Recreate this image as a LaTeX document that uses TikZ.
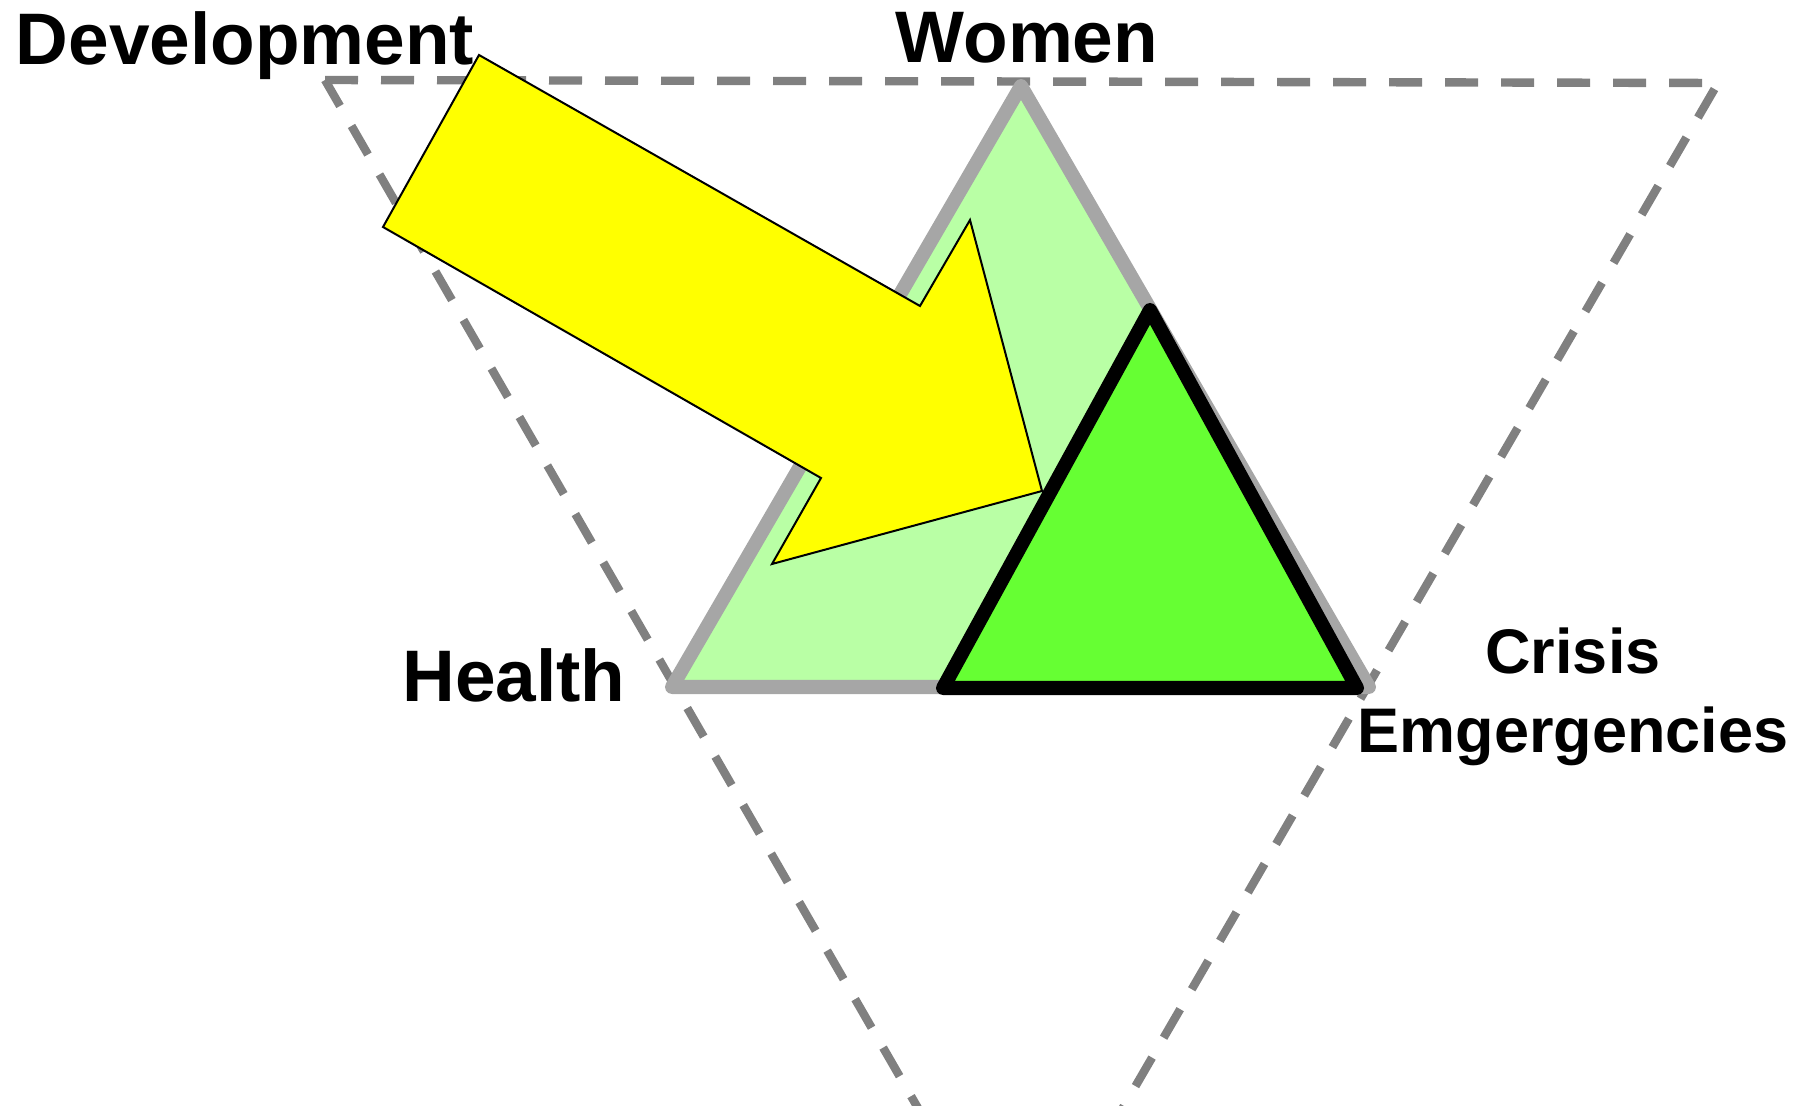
\documentclass[tikz,border=0pt]{standalone}
\usepackage{fontspec}
\setmainfont{Liberation Sans}
\definecolor{dashgray}{HTML}{808080}
\definecolor{bordergray}{HTML}{A6A6A6}
\definecolor{palegreen}{HTML}{B9FFA5}
\definecolor{brightgreen}{HTML}{66FF33}
\definecolor{arrowyellow}{RGB}{255,255,0}
\begin{document}
\begin{tikzpicture}[x=0.5pt,y=-0.5pt,
  frame/.style={draw=dashgray, line width=4.2pt, dash pattern=on 16.5pt off 11.5pt, line join=round},
  outertri/.style={draw=bordergray, fill=palegreen, line width=7pt, line join=round},
  innertri/.style={draw=black, fill=brightgreen, line width=7pt, line join=round},
  bigarrow/.style={draw=black, fill=arrowyellow, line width=1pt, line join=miter},
  biglabel/.style={font=\fontsize{36.5pt}{40pt}\selectfont\bfseries, inner sep=0pt, anchor=base},
  smalllabel/.style={font=\fontsize{31.5pt}{36pt}\selectfont\bfseries, inner sep=0pt, anchor=base}]
\useasboundingbox (0,0) rectangle (1810,1106);
\clip (0,0) rectangle (1810,1106);

% dashed frame triangle (pointing down)
\coordinate (fTL) at (325,80);
\coordinate (fTR) at (1718,83);
\coordinate (fB) at (1020,1285);
\draw[frame] (fTL) -- (fTR) -- (fB) -- cycle;

% pale green triangle
\coordinate (oA) at (1021,86);
\coordinate (oL) at (672,687);
\coordinate (oR) at (1369,687);
\draw[outertri] (oA) -- (oR) -- (oL) -- cycle;

% yellow arrow
\coordinate (a1) at (479,55);
\coordinate (a2) at (920,306);
\coordinate (a3) at (970,220);
\coordinate (a4) at (1042,491);
\coordinate (a5) at (772,564);
\coordinate (a6) at (821,478);
\coordinate (a7) at (383,227);
\draw[bigarrow] (a1) -- (a2) -- (a3) -- (a4) -- (a5) -- (a6) -- (a7) -- cycle;

% bright green triangle
\coordinate (iA) at (1150,310);
\coordinate (iL) at (943,688);
\coordinate (iR) at (1357,688);
\draw[innertri] (iA) -- (iR) -- (iL) -- cycle;

% labels
\node[biglabel] (dev) at (245,65) {Development};
\node[biglabel] (women) at (1027,63) {Women};
\node[biglabel] (health) at (514,701) {Health};
\node[smalllabel] (crisis) at (1573,674) {Crisis};
\node[smalllabel] (emerg) at (1573,752) {Emgergencies};
\end{tikzpicture}
\end{document}
